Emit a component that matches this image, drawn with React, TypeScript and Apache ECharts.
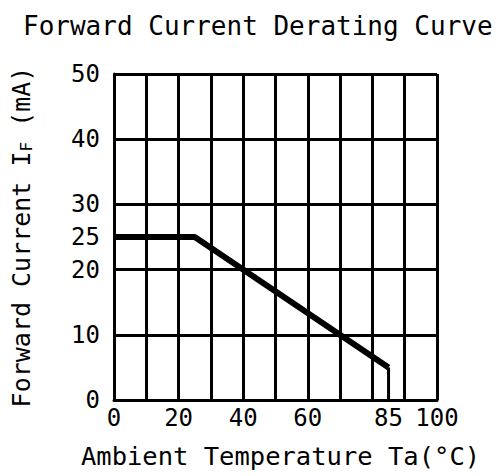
import React, { useEffect, useRef } from "react";
import * as echarts from "echarts";

const titleText = "Forward Current Derating Curve";
const xName = "Ambient Temperature Ta(°C)";
const yNameMain = "Forward Current I";
const yNameSub = "F";
const yNameUnit = " (mA)";

// Derating curve: ambient temperature (°C) -> forward current (mA)
const deratingTemps = [0, 25, 85];
const deratingCurrents = [25, 25, 5];
// Cut-off at maximum operating temperature
const cutoffTemps = [85, 85];
const cutoffCurrents = [5, 0];

const xTickLabels = [0, 20, 40, 60, 85, 100];
const yTickLabels = [0, 10, 20, 25, 30, 40, 50];

const FONT = "'DejaVu Sans Mono', 'Liberation Mono', monospace";

export default function App() {
  const ref = useRef<HTMLDivElement>(null);
  useEffect(() => {
    if (!ref.current) return;
    const chart = echarts.init(ref.current, null, { renderer: "svg" });
    chart.setOption({
      animation: false,
      backgroundColor: "#ffffff",
      title: {
        text: titleText,
        left: 18,
        top: 8,
        textStyle: { fontFamily: FONT, fontSize: 26, fontWeight: "normal", color: "#000" },
      },
      grid: { left: 114, right: 61, top: 74, bottom: 76 },
      xAxis: {
        type: "value",
        min: 0,
        max: 100,
        interval: 10,
        name: xName,
        nameLocation: "middle",
        nameGap: 43,
        nameTextStyle: { fontFamily: FONT, fontSize: 25.5, color: "#000", padding: [0, 0, 0, 10] },
        axisLine: { show: true, onZero: false, lineStyle: { color: "#000", width: 3 } },
        axisTick: { show: false },
        axisLabel: {
          customValues: xTickLabels,
          margin: 6,
          fontFamily: FONT,
          fontSize: 24,
          color: "#000",
          showMinLabel: true,
          showMaxLabel: true,
        },
        splitLine: { show: true, lineStyle: { color: "#000", width: 3 } },
      },
      yAxis: {
        type: "value",
        min: 0,
        max: 50,
        interval: 10,
        name: `{m|${yNameMain}}{s|${yNameSub}}{m|${yNameUnit}}`,
        nameLocation: "middle",
        nameGap: 80,
        nameTextStyle: {
          fontFamily: FONT,
          fontSize: 25,
          color: "#000",
          rich: {
            m: { fontFamily: FONT, fontSize: 25, color: "#000" },
            s: { fontFamily: FONT, fontSize: 16, color: "#000", padding: [10, 0, 0, 0] },
          },
        },
        axisLine: { show: true, lineStyle: { color: "#000", width: 3 } },
        axisTick: { show: false },
        axisLabel: {
          customValues: yTickLabels,
          margin: 14,
          fontFamily: FONT,
          fontSize: 24,
          color: "#000",
          showMinLabel: true,
          showMaxLabel: true,
        },
        splitLine: { show: true, lineStyle: { color: "#000", width: 3 } },
      },
      series: [
        {
          name: "Derating",
          type: "line",
          data: deratingTemps.map((t, i) => [t, deratingCurrents[i]]),
          showSymbol: false,
          symbol: "none",
          lineStyle: { color: "#000", width: 6 },
          z: 5,
        },
        {
          name: "Cutoff",
          type: "line",
          data: cutoffTemps.map((t, i) => [t, cutoffCurrents[i]]),
          showSymbol: false,
          symbol: "none",
          lineStyle: { color: "#000", width: 3 },
          z: 4,
        },
      ],
    });
    return () => chart.dispose();
  }, []);
  return <div ref={ref} style={{ width: 498, height: 476, position: "absolute", left: 0, top: 0 }} />;
}
